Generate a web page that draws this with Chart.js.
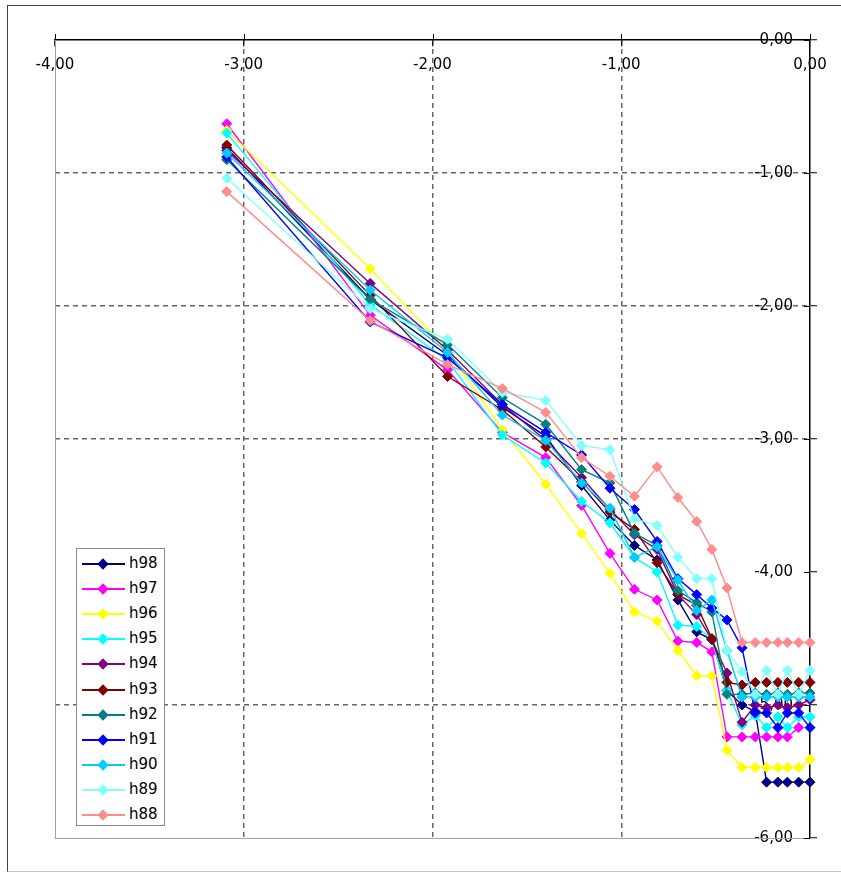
<!DOCTYPE html>
<html>
<head>
<meta charset="utf-8">
<script src="https://cdn.jsdelivr.net/npm/chart.js@4/dist/chart.umd.min.js"></script>
<style>
  html, body { margin: 0; padding: 0; background: #fff; }
  #wrap { position: relative; width: 841px; height: 873px; overflow: hidden; }
  #chart { position: absolute; left: 0; top: 0; }
  #frame {
    position: absolute; left: 7px; top: 5px; width: 834px; height: 867px;
    border-top: 1px solid #404040; border-left: 1px solid #404040; border-bottom: 1px solid #c8c8c8;
    box-sizing: border-box; pointer-events: none;
  }
  #legend {
    position: absolute; left: 76px; top: 548px; width: 89px; height: 278px;
    border: 1px solid #8a8a8a; background: #fff; box-sizing: border-box;
    font: 15px "DejaVu Sans", sans-serif; color: #000;
  }
  .item { position: absolute; left: 0; width: 100%; height: 1px; }
  .item .line { position: absolute; left: 5px; width: 43px; height: 2px; top: -1px; }
  .item .mark { position: absolute; left: 22px; top: -4px; width: 8px; height: 8px; transform: rotate(45deg); }
  .item .txt { position: absolute; left: 52px; top: -10px; line-height: 18px; }
</style>
</head>
<body>
<div id="wrap">
  <canvas id="chart" width="841" height="873"></canvas>
  <div id="frame"></div>
  <div id="legend"></div>
</div>
<script>
// ============================================
// DATA
// ============================================

const xVals = [-3.09, -2.33, -1.92, -1.63, -1.40, -1.21, -1.06, -0.93, -0.81, -0.70,
               -0.60, -0.52, -0.44, -0.36, -0.29, -0.23, -0.17, -0.12, -0.06, 0.00];

const h98 = [-0.81, -1.95, -2.37, -2.76, -2.98, -3.35, -3.61, -3.80, -3.91, -4.21,
             -4.45, -4.51, -4.89, -5.00, -5.05, -5.58, -5.58, -5.58, -5.58, -5.58];
const h97 = [-0.63, -2.07, -2.48, -2.95, -3.14, -3.50, -3.86, -4.13, -4.21, -4.52,
             -4.53, -4.60, -5.24, -5.24, -5.24, -5.24, -5.24, -5.24, -5.17, null];
const h96 = [-0.68, -1.72, -2.33, -2.93, -3.34, -3.71, -4.01, -4.30, -4.37, -4.59,
             -4.78, -4.78, -5.34, -5.47, -5.47, -5.47, -5.47, -5.47, -5.47, -5.41];
const h95 = [-0.70, -1.99, -2.41, -2.97, -3.18, -3.47, -3.63, -3.89, -4.00, -4.40,
             -4.41, -4.51, -4.89, -5.15, -5.08, -5.17, -5.09, -5.17, -5.09, -5.09];
const h94 = [-0.83, -1.83, -2.33, -2.74, -3.01, -3.29, -3.53, -3.72, -3.83, -4.17,
             -4.32, -4.51, -4.76, -5.13, -5.00, -5.02, -5.00, -5.02, -5.00, -4.96];
const h93 = [-0.79, -1.92, -2.53, -2.78, -3.06, -3.32, -3.55, -3.68, -3.93, -4.17,
             -4.25, -4.50, -4.83, -4.85, -4.83, -4.83, -4.83, -4.83, -4.83, -4.83];
const h92 = [-0.90, -1.95, -2.29, -2.69, -2.89, -3.23, -3.33, -3.71, -3.80, -4.14,
             -4.23, -4.30, -4.92, -4.92, -4.91, -4.92, -4.91, -4.92, -4.91, -4.91];
const h91 = [-0.88, -2.12, -2.39, -2.74, -2.95, -3.12, -3.37, -3.53, -3.77, -4.05,
             -4.17, -4.27, -4.36, -4.57, -5.06, -5.06, -5.17, -5.06, -5.06, -5.17];
const h90 = [-0.85, -1.88, -2.35, -2.82, -3.01, -3.33, -3.52, -3.89, -3.81, -4.06,
             -4.29, -4.21, -4.59, -4.94, -4.94, -4.94, -4.94, -4.94, -4.94, -4.94];
const h89 = [-1.04, -2.02, -2.25, -2.65, -2.71, -3.05, -3.08, -3.60, -3.65, -3.89,
             -4.05, -4.05, -4.59, -4.75, -4.92, -4.74, -4.92, -4.74, -4.92, -4.74];
const h88 = [-1.14, -2.11, -2.44, -2.62, -2.80, -3.14, -3.28, -3.43, -3.21, -3.44,
             -3.62, -3.83, -4.12, -4.53, -4.53, -4.53, -4.53, -4.53, -4.53, -4.53];

const seriesNames  = ['h98', 'h97', 'h96', 'h95', 'h94', 'h93', 'h92', 'h91', 'h90', 'h89', 'h88'];
const seriesValues = [h98, h97, h96, h95, h94, h93, h92, h91, h90, h89, h88];
const seriesColors = ['#000080', '#ff00ff', '#ffff00', '#00ffff', '#800080', '#800000',
                      '#008080', '#0000ff', '#00ccff', '#80ffff', '#ff8c8c'];

const fmt = v => v.toFixed(2).replace('.', ',');

// ============================================
// CHART
// ============================================

const datasets = seriesNames.map((name, i) => ({
  label: name,
  data: xVals.map((x, k) => ({ x, y: seriesValues[i][k] })).filter(p => p.y !== null),
  showLine: true,
  borderColor: seriesColors[i],
  borderWidth: 1.4,
  pointStyle: 'rectRot',
  pointRadius: 5,
  pointHoverRadius: 5,
  pointBorderWidth: 1,
  pointBackgroundColor: seriesColors[i],
  pointBorderColor: seriesColors[i],
  clip: false,
  order: seriesNames.length - i
}));

const gridColor = ctx => (ctx.tick && (ctx.tick.value === 0 || ctx.tick.value === -4 || ctx.tick.value === -6))
  ? 'rgba(0,0,0,0)' : '#666';

// short inner half of the "+" ticks on both axes
const crossTicks = {
  id: 'crossTicks',
  afterDraw(chart) {
    const { ctx, chartArea, scales: { x, y } } = chart;
    ctx.save();
    ctx.strokeStyle = '#000';
    ctx.lineWidth = 1;
    x.ticks.forEach(t => {
      const px = Math.round(x.getPixelForValue(t.value)) + 0.5;
      ctx.beginPath(); ctx.moveTo(px, chartArea.top - 6); ctx.lineTo(px, chartArea.top); ctx.stroke();
    });
    y.ticks.forEach(t => {
      const py = Math.round(y.getPixelForValue(t.value)) + 0.5;
      ctx.beginPath(); ctx.moveTo(chartArea.right - 6, py); ctx.lineTo(chartArea.right, py); ctx.stroke();
    });
    ctx.restore();
  }
};

Chart.defaults.font.family = '"DejaVu Sans", sans-serif';
Chart.defaults.font.size = 15;
Chart.defaults.color = '#000';

// negative padding pulls the mirrored y labels left of the axis line
// (the axis box then collapses to zero width)
const yLabelPad = -17;

new Chart(document.getElementById('chart'), {
  type: 'scatter',
  data: { datasets },
  options: {
    responsive: false,
    animation: false,
    layout: { padding: { left: 55, right: 31, top: 40, bottom: 35 } },
    plugins: { legend: { display: false }, tooltip: { enabled: false } },
    scales: {
      x: {
        type: 'linear', position: { y: 0 }, min: -4, max: 0,
        grid: { color: gridColor, lineWidth: 1.5, tickColor: '#000', tickLength: 6, tickWidth: 1 },
        border: { display: true, color: '#000', width: 1.5, dash: [5, 4] },
        ticks: { stepSize: 1, padding: 10, callback: v => fmt(v) }
      },
      y: {
        type: 'linear', position: 'right', min: -6, max: 0,
        grid: { color: gridColor, lineWidth: 1.5, tickColor: '#000', tickLength: 7, tickWidth: 1 },
        border: { display: true, color: '#000', width: 1.5, dash: [5, 4] },
        ticks: { stepSize: 1, mirror: true, padding: yLabelPad, callback: v => fmt(v) }
      },
      xBottom: {
        type: 'linear', position: 'bottom', min: -4, max: 0,
        grid: { drawOnChartArea: false, drawTicks: false },
        border: { display: true, color: '#a0a0a0', width: 1 },
        ticks: { display: false }
      },
      yLeft: {
        type: 'linear', position: 'left', min: -6, max: 0,
        grid: { drawOnChartArea: false, drawTicks: false },
        border: { display: true, color: '#a0a0a0', width: 1 },
        ticks: { display: false }
      }
    }
  },
  plugins: [crossTicks]
});

// ============================================
// LEGEND
// ============================================

const legendEl = document.getElementById('legend');
legendEl.innerHTML = seriesNames.map((name, i) => `
  <div class="item" style="top:${15 + i * 25.1}px">
    <span class="line" style="background:${seriesColors[i]}"></span>
    <span class="mark" style="background:${seriesColors[i]}"></span>
    <span class="txt">${name}</span>
  </div>`).join('');
</script>
</body>
</html>
